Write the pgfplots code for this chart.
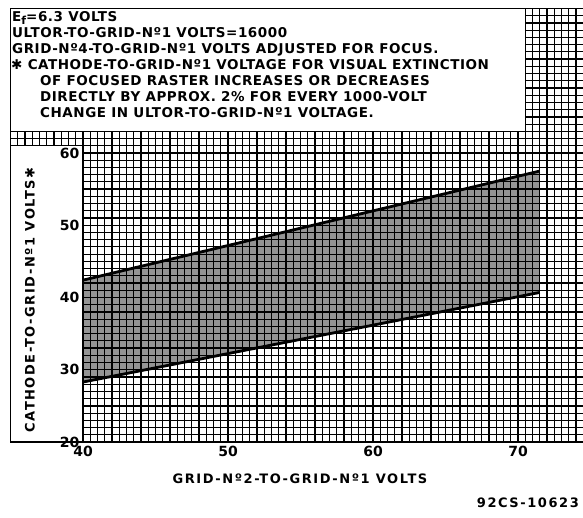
\documentclass[border=0pt]{standalone}
\usepackage{pgfplots}
\pgfplotsset{compat=1.18}
\usepackage{fontspec}
\setmainfont{DejaVu Sans}
\newcommand\boxfont{\fontsize{13.5}{16}\selectfont\bfseries\addfontfeature{LetterSpace=4}}
\newcommand\labfont{\fontsize{13}{15}\selectfont\bfseries\addfontfeature{LetterSpace=12}}
\pgfplotsset{
 layers/mylayers/.define layer set={axis background,axis grid,pre main,main,axis ticks,axis lines,axis tick labels,axis descriptions,axis foreground}{
  grid style={/pgfplots/on layer=axis grid},
  tick style={/pgfplots/on layer=axis ticks},
  axis line style={/pgfplots/on layer=axis lines},
  label style={/pgfplots/on layer=axis descriptions},
  legend style={/pgfplots/on layer=axis descriptions},
  title style={/pgfplots/on layer=axis descriptions},
  colorbar style={/pgfplots/on layer=axis descriptions},
  ticklabel style={/pgfplots/on layer=axis tick labels},
  axis background@ style={/pgfplots/on layer=axis background},
  3d box foreground style={/pgfplots/on layer=axis foreground},
 },
}
\begin{document}
\begin{tikzpicture}
\begin{axis}[
  set layers=mylayers,
  scale only axis,
  width=572.75pt, height=433.5pt,
  at={(10.5pt,76pt)}, anchor=south west,
  xmin=35, xmax=74.5, ymin=20, ymax=80,
  xtick={35,40,...,70}, xticklabels={,40,,50,,60,,70},
  ytick={20,25,...,80}, yticklabels={20,,30,,40,,50,,60,,,,},
  minor xtick={35,35.5,...,74.5},
  minor ytick={20,21,...,80},
  major tick length=0pt, minor tick length=0pt,
  grid=both,
  major grid style={black, line width=1.3pt},
  minor grid style={black, line width=1.15pt},
  axis line style={black, line width=1.3pt},
  /pgf/number format/assume math mode=true,
  tick label style={font=\bfseries\fontsize{14}{14}\selectfont, text=black},
  yticklabel style={xshift=72.5pt},
  xticklabel style={yshift=-1pt},
]
% white boxes over the grid
\fill[white, draw=black, line width=1.2pt] (axis cs:35,20) rectangle (axis cs:40,61);
\fill[white, draw=black, line width=1.3pt] (axis cs:35,63) rectangle (axis cs:70.5,80);
% stippled region between the limits
\addplot[draw=none, fill=black, fill opacity=0.42] coordinates {(40,28.3) (71.5,40.7) (71.5,57.5) (40,42.4) (40,28.3)};
\addplot[black, line width=2.8pt] coordinates {(40,42.4) (71.5,57.5)};
\addplot[black, line width=2.8pt] coordinates {(40,28.3) (71.5,40.7)};
\end{axis}
\begin{scope}[every node/.style={inner sep=0pt, font=\boxfont}]
\node[anchor=base west] at (12pt,496pt) {E\raisebox{-0.35ex}{\fontsize{11}{11}\selectfont f}=6.3 VOLTS};
\node[anchor=base west] at (12pt,480pt) {ULTOR-TO-GRID-Nº1 VOLTS=16000};
\node[anchor=base west] at (12pt,464pt) {GRID-Nº4-TO-GRID-Nº1 VOLTS ADJUSTED FOR FOCUS.};
\node[anchor=base west] at (11pt,448pt) {✱ CATHODE-TO-GRID-Nº1 VOLTAGE FOR VISUAL EXTINCTION};
\node[anchor=base west] at (40pt,432pt) {OF FOCUSED RASTER INCREASES OR DECREASES};
\node[anchor=base west] at (40pt,416pt) {DIRECTLY BY APPROX. 2\% FOR EVERY 1000-VOLT};
\node[anchor=base west] at (40pt,400pt) {CHANGE IN ULTOR-TO-GRID-Nº1 VOLTAGE.};
\node[anchor=base, font=\labfont] at (300pt,34pt) {GRID-Nº2-TO-GRID-Nº1 VOLTS};
\node[rotate=90, anchor=center, font=\labfont] at (30pt,218pt) {CATHODE-TO-GRID-Nº1 VOLTS✱};
\node[anchor=base east, font=\labfont] at (579pt,10pt) {92CS-10623};
\end{scope}
\pgfresetboundingbox
\path[use as bounding box] (0,0) rectangle (583pt,518pt);
\end{tikzpicture}
\end{document}
